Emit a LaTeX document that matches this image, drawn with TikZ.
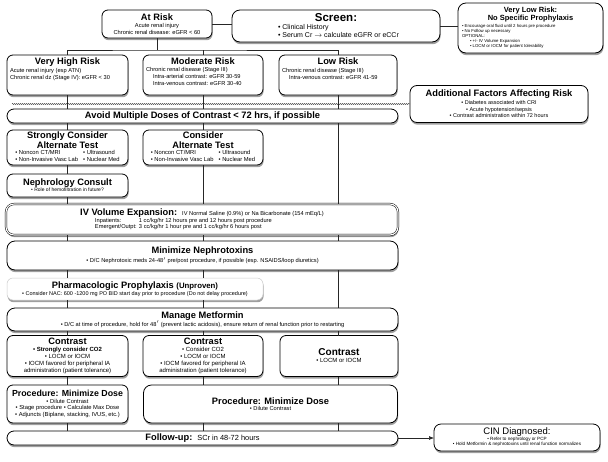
\documentclass[tikz,border=0pt]{standalone}
\usepackage{fontspec}
\setmainfont{Liberation Sans}
\usetikzlibrary{shadows,decorations.pathmorphing,arrows.meta}

\newcommand\ttlf{\fontsize{9.3}{10.4}\selectfont\bfseries}
\newcommand\smf{\fontsize{5.7}{6.6}\selectfont}
\newcommand\cbox[2]{\begin{minipage}{#1}\centering #2\par\end{minipage}}

\tikzset{
  box/.style={draw=black, line width=0.8pt, fill=white, rounded corners=6pt,
    inner sep=0pt, outer sep=0pt,
    drop shadow={shadow xshift=0.6pt, shadow yshift=-2.2pt, opacity=0.5, fill=black!75}},
  conn/.style={draw=black!85, line width=0.6pt},
  wave/.style={draw=black!80, line width=0.3pt, decorate,
    decoration={snake, amplitude=0.7pt, segment length=2pt}},
}

\begin{document}
\begin{tikzpicture}[x=1pt,y=-1pt]
\useasboundingbox (0,0) rectangle (608,461);
\fill[white] (0,0) rectangle (608,461);

% ---- top row
\node[box, minimum width=110, minimum height=28] (atrisk) at (157,24)
  {\cbox{104pt}{{\ttlf At Risk\par}\vspace{1pt}{\smf Acute renal injury\\Chronic renal disease: eGFR < 60\par}}};

\node[box, rounded corners=8pt, minimum width=208, minimum height=32] (screen) at (336,26)
  {\begin{minipage}{200pt}{\centering\fontsize{11.5}{12.5}\selectfont\bfseries Screen:\par}%
   {\fontsize{7}{8}\selectfont\hspace*{42pt}• Clinical History\\\hspace*{42pt}• Serum Cr $\rightarrow$ calculate eGFR or eCCr\par}\end{minipage}};

\node[box, rounded corners=8pt, minimum width=145, minimum height=50] (vlr) at (530.5,28)
  {\begin{minipage}{137pt}{\centering\fontsize{7.5}{8.3}\selectfont\bfseries Very Low Risk:\\No Specific Prophylaxis\par}\vspace{1.5pt}%
   {\fontsize{4.3}{5.1}\selectfont • Encourage oral fluid until 2 hours pre procedure\\• No Follow up necessary\\OPTIONAL:\\\hspace*{8pt}• +/- IV Volume Expansion\\\hspace*{8pt}• LOCM or IOCM for patient tolerability\par}\end{minipage}};

% ---- risk boxes
\node[box, minimum width=121, minimum height=40] (vhr) at (67.5,75)
  {\begin{minipage}[c][35pt][t]{115pt}{\centering\ttlf Very High Risk\par}\vspace{2pt}%
   {\smf Acute renal injury (esp ATN)\\Chronic renal dz (Stage IV): eGFR < 30\par}\end{minipage}};
\node[box, minimum width=120, minimum height=40] (mr) at (203,75)
  {\begin{minipage}[c][35pt][t]{114pt}{\centering\ttlf Moderate Risk\par}\vspace{1pt}%
   {\smf Chronic renal disease (Stage III)\\\hspace*{7pt}Intra-arterial contrast: eGFR 30-59\\\hspace*{7pt}Intra-venous contrast: eGFR 30-40\par}\end{minipage}};
\node[box, minimum width=118, minimum height=40] (lr) at (338,75)
  {\begin{minipage}[c][35pt][t]{112pt}{\centering\ttlf Low Risk\par}\vspace{2pt}%
   {\smf Chronic renal disease (Stage III)\\\hspace*{7pt}Intra-venous contrast: eGFR 41-59\par}\end{minipage}};

\node[box, rounded corners=7pt, minimum width=178, minimum height=37] (addf) at (499,104)
  {\cbox{172pt}{{\ttlf Additional Factors Affecting Risk\par}\vspace{1pt}{\fontsize{5.5}{6.6}\selectfont • Diabetes associated with CRI\\• Acute hypotension/sepsis\\• Contrast administration within 72 hours\par}}};

\node[box, rounded corners=7pt, minimum width=391, minimum height=14] (avoid) at (202.5,116)
  {\ttlf Avoid Multiple Doses of Contrast < 72 hrs, if possible};

% ---- alternate tests
\node[box, minimum width=121, minimum height=35] (scat) at (67.5,147.5)
  {\cbox{119pt}{{\fontsize{9.3}{9.8}\selectfont\bfseries Strongly Consider\\Alternate Test\par}\vspace{1pt}%
   {\fontsize{5.8}{6.5}\selectfont\begin{tabular}{@{}l@{\hspace{5pt}}l@{}}• Noncon CT/MRI & • Ultrasound\\• Non-Invasive Vasc Lab & • Nuclear Med\end{tabular}\par}}};
\node[box, minimum width=120, minimum height=35] (cat) at (203,147.5)
  {\cbox{118pt}{{\fontsize{9.3}{9.8}\selectfont\bfseries Consider\\Alternate Test\par}\vspace{1pt}%
   {\fontsize{5.8}{6.5}\selectfont\begin{tabular}{@{}l@{\hspace{5pt}}l@{}}• Noncon CT/MRI & • Ultrasound\\• Non-Invasive Vasc Lab & • Nuclear Med\end{tabular}\par}}};
\node[box, minimum width=121, minimum height=23] (nephro) at (67.5,185.5)
  {\cbox{117pt}{{\ttlf Nephrology Consult\par}{\fontsize{5}{6}\selectfont • Role of hemofiltration in future?\par}}};

% ---- full-width boxes
\node[box, double, double distance=1.1pt, line width=0.5pt, rounded corners=8pt, minimum width=392, minimum height=31] (iv) at (202,219.5)
  {\begin{minipage}{384pt}{\centering{\ttlf IV Volume Expansion:}\enspace{\smf IV Normal Saline (0.9\%) or Na Bicarbonate (154 mEq/L)}\par}\vspace{0.5pt}%
   {\smf\hspace*{85pt}\begin{tabular}[t]{@{}p{44pt}@{}l@{}}Inpatients: & 1 cc/kg/hr 12 hours pre and 12 hours post procedure\\Emergent/Outpt: & 3 cc/kg/hr 1 hour pre and 1 cc/kg/hr 6 hours post\end{tabular}\par}\end{minipage}};

\node[box, rounded corners=8pt, minimum width=391, minimum height=29] (minz) at (202.5,255.5)
  {\cbox{385pt}{{\ttlf Minimize Nephrotoxins\par}\vspace{1pt}{\smf • D/C Nephrotoxic meds 24-48$^{\prime}$ pre/post procedure, if possible (esp. NSAIDS/loop diuretics)\par}}};

\node[box, draw=black!20, line width=0.5pt, minimum width=256, minimum height=22] (pharma) at (135,289)
  {\cbox{252pt}{{\ttlf Pharmacologic Prophylaxis {\fontsize{7.8}{8}\selectfont (Unproven)}\par}\vspace{0.5pt}%
   {\fontsize{5.5}{6.4}\selectfont • Consider NAC: 600 -1200 mg PO BID start day prior to procedure (Do not delay procedure)\par}}};

\node[box, rounded corners=8pt, minimum width=391, minimum height=23] (manage) at (202.5,319.5)
  {\cbox{385pt}{{\ttlf Manage Metformin\par}{\smf • D/C at time of procedure, hold for 48$^{\prime}$ (prevent lactic acidosis), ensure return of renal function prior to restarting\par}}};

% ---- contrast
\node[box, minimum width=121, minimum height=41] (con1) at (67.5,356)
  {\cbox{119pt}{{\ttlf Contrast\par}{\fontsize{6}{7}\selectfont{\bfseries • Strongly consider CO2}\\• LOCM or IOCM\\• IOCM favored for peripheral IA\\administration (patient tolerance)\par}}};
\node[box, minimum width=120, minimum height=41] (con2) at (203,356)
  {\cbox{118pt}{{\ttlf Contrast\par}{\fontsize{6}{7}\selectfont • Consider CO2\\• LOCM or IOCM\\• IOCM favored for peripheral IA\\administration (patient tolerance)\par}}};
\node[box, minimum width=118, minimum height=41] (con3) at (339,356)
  {\cbox{114pt}{{\fontsize{10}{11}\selectfont\bfseries Contrast\par}{\fontsize{6}{7}\selectfont • LOCM or IOCM\par}}};

% ---- procedure
\node[box, minimum width=121, minimum height=38] (proc1) at (67.5,404)
  {\cbox{119pt}{{\fontsize{8.8}{10}\selectfont\bfseries Procedure: Minimize Dose\par}{\fontsize{5.8}{6.8}\selectfont • Dilute Contrast\\• Stage procedure • Calculate Max Dose\\• Adjuncts (Biplane, stacking, IVUS, etc.)\par}}};
\node[box, rounded corners=8pt, minimum width=254, minimum height=38] (proc2) at (270.5,404)
  {\cbox{248pt}{{\ttlf Procedure: Minimize Dose\par}{\smf • Dilute Contrast\par}}};

\node[box, rounded corners=7pt, minimum width=391, minimum height=14] (follow) at (202.5,438)
  {{\ttlf Follow-up:}\enspace{\fontsize{7.4}{8}\selectfont SCr in 48-72 hours}};

\node[box, rounded corners=7pt, minimum width=166, minimum height=27] (cin) at (517,437.5)
  {\cbox{162pt}{{\fontsize{9.5}{10.5}\selectfont CIN Diagnosed:\par}{\fontsize{4.6}{5.5}\selectfont • Refer to nephrology or PCP\\• Hold Metformin \& nephrotoxins until renal function normalizes\par}}};

% ---- connectors
\coordinate (c1) at (67.5,0);
\coordinate (c2) at (203,0);
\coordinate (c3) at (338,0);
\coordinate (tj) at (157,50);
\coordinate (ws) at (12,104);

\draw[conn] (atrisk.east) -- (atrisk.east -| screen.west);
\draw[conn] (screen.east) -- (screen.east -| vlr.west);
\draw[conn] (atrisk.south) -- (atrisk.south |- tj);
\draw[conn] (vhr.north) |- (tj) -| (lr.north);
\draw[conn] (mr.north) -- (mr.north |- tj);

\draw[wave] (ws) -- (addf.west);

\draw[conn] (vhr.south) -- (vhr.south |- avoid.north);
\draw[conn] (mr.south) -- (mr.south |- avoid.north);
\draw[conn] (lr.south) -- (lr.south |- avoid.north);

\draw[conn] (avoid.south -| c1) -- (scat.north);
\draw[conn] (avoid.south -| c2) -- (cat.north);
\draw[conn] (avoid.south -| c3) -- (iv.north -| c3);
\draw[conn] (scat.south) -- (nephro.north);
\draw[conn] (nephro.south) -- (nephro.south |- iv.north);
\draw[conn] (cat.south) -- (cat.south |- iv.north);

\foreach \c in {c1,c2,c3} {
  \draw[conn] (iv.south -| \c) -- (minz.north -| \c);
}
\draw[conn] (minz.south -| c1) -- (pharma.north -| c1);
\draw[conn] (minz.south -| c2) -- (pharma.north -| c2);
\draw[conn] (minz.south -| c3) -- (manage.north -| c3);
\draw[conn] (pharma.south -| c1) -- (manage.north -| c1);
\draw[conn] (pharma.south -| c2) -- (manage.north -| c2);

\draw[conn] (manage.south -| c1) -- (con1.north -| c1);
\draw[conn] (manage.south -| c2) -- (con2.north -| c2);
\draw[conn] (manage.south -| c3) -- (con3.north -| c3);

\draw[conn] (con1.south -| c1) -- (proc1.north -| c1);
\draw[conn] (con2.south -| c2) -- (proc2.north -| c2);
\draw[conn] (con3.south -| c3) -- (proc2.north -| c3);

\draw[conn] (proc1.south -| c1) -- (follow.north -| c1);
\draw[conn] (proc2.south -| c2) -- (follow.north -| c2);
\draw[conn] (proc2.south -| c3) -- (follow.north -| c3);

\draw[conn, -{Latex[length=5pt,width=4pt]}] (follow.east) -- (follow.east -| cin.west);
\end{tikzpicture}
\end{document}
